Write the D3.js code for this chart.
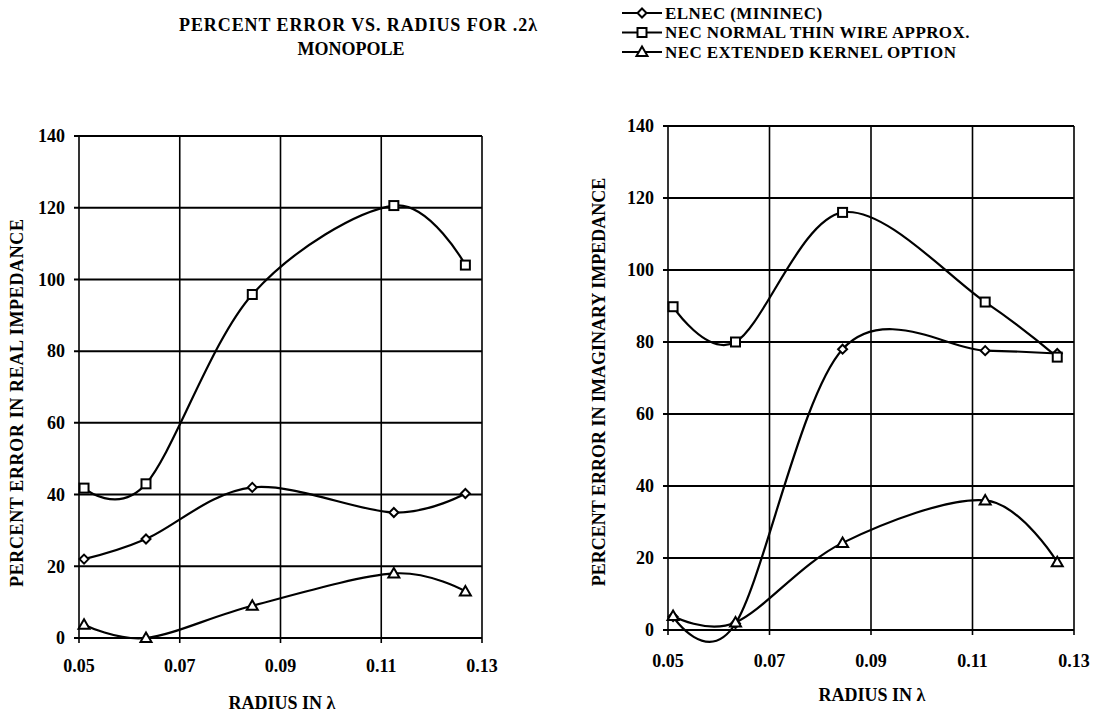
<!DOCTYPE html>
<html>
<head>
<meta charset="utf-8">
<script src="https://cdn.jsdelivr.net/npm/d3@7"></script>
<style>
  html, body { margin: 0; padding: 0; background: #fff; }
  svg text { font-family: "Liberation Serif", "Times New Roman", serif; font-weight: bold; fill: #000; }
</style>
</head>
<body>
<svg id="chart" width="1095" height="712"></svg>
<script>
// ---- data ----
const radius = [0.051, 0.0633, 0.0844, 0.1125, 0.1267];
const xTicks = [0.05, 0.07, 0.09, 0.11, 0.13];
const yTicks = [0, 20, 40, 60, 80, 100, 120, 140];

const seriesNames = ["ELNEC (MININEC)", "NEC NORMAL THIN WIRE APPROX.", "NEC EXTENDED KERNEL OPTION"];
const seriesMarkers = ["diamond", "square", "triangle"];

const elnecReal   = [22, 27.6, 42, 35, 40.3];
const necThinReal = [41.8, 43, 95.8, 120.6, 104];
const necExtReal  = [3.7, 0, 9, 18, 13];

const elnecImag   = [3.7, 1.8, 78, 77.6, 76.8];
const necThinImag = [89.8, 80, 116, 91.1, 75.8];
const necExtImag  = [3.9, 2.1, 24.2, 36, 18.8];

const titleLines = ["PERCENT ERROR VS. RADIUS FOR .2\u03BB", "MONOPOLE"];
const xTitle = "RADIUS IN \u03BB";
const yTitleLeft = "PERCENT ERROR IN REAL IMPEDANCE";
const yTitleRight = "PERCENT ERROR IN IMAGINARY IMPEDANCE";

// ---- drawing ----
const svg = d3.select("#chart");
svg.append("rect").attr("width", 1095).attr("height", 712).attr("fill", "#fff");
const FS = 18;

function marker(g, type, cx, cy) {
  if (type === "square") {
    g.append("rect").attr("x", cx - 4.5).attr("y", cy - 4.5).attr("width", 9).attr("height", 9)
      .attr("fill", "#fff").attr("stroke", "#000").attr("stroke-width", 2);
  } else if (type === "diamond") {
    g.append("path").attr("d", `M${cx},${cy-4.5}L${cx+4.5},${cy}L${cx},${cy+4.5}L${cx-4.5},${cy}Z`)
      .attr("fill", "#fff").attr("stroke", "#000").attr("stroke-width", 2);
  } else {
    g.append("path").attr("d", `M${cx},${cy-5.5}L${cx+5.5},${cy+4}L${cx-5.5},${cy+4}Z`)
      .attr("fill", "#fff").attr("stroke", "#000").attr("stroke-width", 2);
  }
}

function panel(cfg) {
  const x = d3.scaleLinear().domain([0.05, 0.13]).range([cfg.x0, cfg.x1]);
  const y = d3.scaleLinear().domain([0, 140]).range([cfg.y0, cfg.y1]);
  const g = svg.append("g");

  // grid
  g.selectAll(".hg").data(yTicks).enter().append("line")
    .attr("x1", cfg.x0 - 5).attr("x2", cfg.x1).attr("y1", d => y(d)).attr("y2", d => y(d))
    .attr("stroke", "#000").attr("stroke-width", 2);
  g.selectAll(".vg").data(xTicks).enter().append("line")
    .attr("y1", cfg.y1).attr("y2", cfg.y0 + 5).attr("x1", d => x(d)).attr("x2", d => x(d))
    .attr("stroke", "#000").attr("stroke-width", 1.6);

  // tick labels
  g.selectAll(".yl").data(yTicks).enter().append("text")
    .attr("x", cfg.x0 - 14).attr("y", d => y(d)).attr("dy", "0.35em")
    .attr("text-anchor", "end").attr("font-size", FS).text(d => d);
  g.selectAll(".xl").data(xTicks).enter().append("text")
    .attr("x", d => x(d)).attr("y", cfg.xLabelY)
    .attr("text-anchor", "middle").attr("font-size", FS).text(d => d.toFixed(2));

  // axis titles
  g.append("text").attr("x", cfg.xTitleCX).attr("y", cfg.xTitleY)
    .attr("text-anchor", "middle").attr("font-size", FS).text(xTitle);
  const yt = g.append("text").attr("transform", `translate(${cfg.yTitleX},${cfg.yTitleCY}) rotate(-90)`)
    .attr("text-anchor", "middle").attr("font-size", FS).text(cfg.yTitle);
  if (cfg.yTitleLen) yt.attr("textLength", cfg.yTitleLen).attr("lengthAdjust", "spacing");

  const line = d3.line().x(d => x(d[0])).y(d => y(d[1])).curve(d3.curveCardinal.tension(0));
  cfg.series.forEach((vals, i) => {
    const pts = radius.map((r, j) => [r, vals[j]]);
    g.append("path").attr("d", line(pts)).attr("fill", "none")
      .attr("stroke", "#000").attr("stroke-width", 2.2);
    pts.forEach(p => marker(g, seriesMarkers[i], x(p[0]), y(p[1])));
  });
}

panel({ x0: 79, x1: 482, y0: 638, y1: 136, xLabelY: 672, xTitleY: 709, xTitleCX: 282,
        yTitleX: 23, yTitleCY: 403, yTitle: yTitleLeft, yTitleLen: 368,
        series: [elnecReal, necThinReal, necExtReal] });
panel({ x0: 668, x1: 1074, y0: 630, y1: 126, xLabelY: 667, xTitleY: 701, xTitleCX: 872,
        yTitleX: 605, yTitleCY: 382, yTitle: yTitleRight, yTitleLen: null,
        series: [elnecImag, necThinImag, necExtImag] });

// title
svg.append("text").attr("x", 358).attr("y", 31).attr("text-anchor", "middle")
  .attr("font-size", FS).attr("textLength", 358).attr("lengthAdjust", "spacing").text(titleLines[0]);
svg.append("text").attr("x", 351).attr("y", 55).attr("text-anchor", "middle")
  .attr("font-size", FS).text(titleLines[1]);

// legend
const legY = [13, 32.5, 52];
const LFS = 17;
seriesNames.forEach((name, i) => {
  const g = svg.append("g");
  g.append("line").attr("x1", 622).attr("x2", 662).attr("y1", legY[i]).attr("y2", legY[i])
    .attr("stroke", "#000").attr("stroke-width", 2.2);
  marker(g, seriesMarkers[i], 642, legY[i]);
  g.append("text").attr("x", 665).attr("y", legY[i]).attr("dy", "0.35em")
    .attr("font-size", LFS).attr("letter-spacing", 0.4).text(name);
});
</script>
</body>
</html>
